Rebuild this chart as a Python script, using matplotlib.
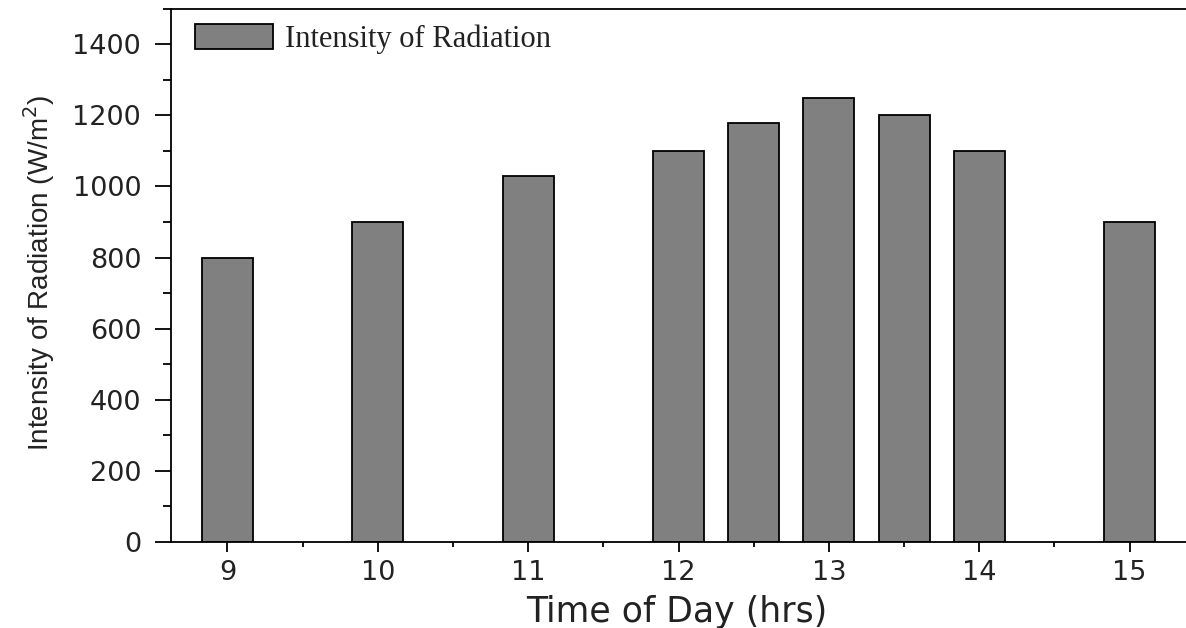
import matplotlib
matplotlib.use("Agg")
import matplotlib.pyplot as plt
from matplotlib.ticker import MultipleLocator

# Solar radiation readings through the day
hours = [9, 10, 11, 12, 12.5, 13, 13.5, 14, 15]
radiation = [800, 900, 1030, 1100, 1180, 1250, 1200, 1100, 900]
xticks = [9, 10, 11, 12, 13, 14, 15]
yticks = [0, 200, 400, 600, 800, 1000, 1200, 1400]

fig = plt.figure(figsize=(11.86, 6.28), dpi=100)
ax = fig.add_axes([0.1442, 0.1377, 0.859, 0.848])

ax.bar(hours, radiation, width=0.34, color="#808080", edgecolor="black",
       linewidth=1.3, label="Intensity of Radiation", zorder=2)

ax.set_xlim(8.625, 15.4)
ax.set_ylim(0, 1500)
ax.set_xticks(xticks)
ax.set_yticks(yticks)
ax.xaxis.set_minor_locator(MultipleLocator(0.5))
ax.yaxis.set_minor_locator(MultipleLocator(100))

label_color = "#222222"
ax.tick_params(axis="y", which="major", length=11.5, width=1.3, direction="out",
               labelsize=19.5, labelcolor=label_color, pad=10)
ax.tick_params(axis="y", which="minor", length=5.8, width=1.3, direction="out")
ax.tick_params(axis="x", which="major", length=7.2, width=1.3, direction="out",
               labelsize=19.5, labelcolor=label_color, pad=6)
ax.tick_params(axis="x", which="minor", length=3.6, width=1.3, direction="out")

for lab in ax.get_xticklabels() + ax.get_yticklabels():
    lab.set_family("DejaVu Sans")

for side in ["left", "bottom", "top", "right"]:
    ax.spines[side].set_linewidth(1.3)

ax.set_xlabel("Time of Day (hrs)", fontsize=25, family="DejaVu Sans",
              color=label_color)
ax.xaxis.set_label_coords(0.496, -0.100)
ax.set_ylabel("Intensity of Radiation (W/m$^2$)", fontsize=20,
              family="Liberation Sans", color=label_color)
ax.yaxis.set_label_coords(-0.112, 0.505)

leg = ax.legend(loc="upper left", frameon=False, borderpad=0.0,
                prop={"family": "Liberation Serif", "size": 22},
                handlelength=2.55, handleheight=0.9, handletextpad=0.4,
                borderaxespad=0.0, bbox_to_anchor=(0.0236, 0.972))
for t in leg.get_texts():
    t.set_color(label_color)

fig.savefig("out.png", dpi=100)
